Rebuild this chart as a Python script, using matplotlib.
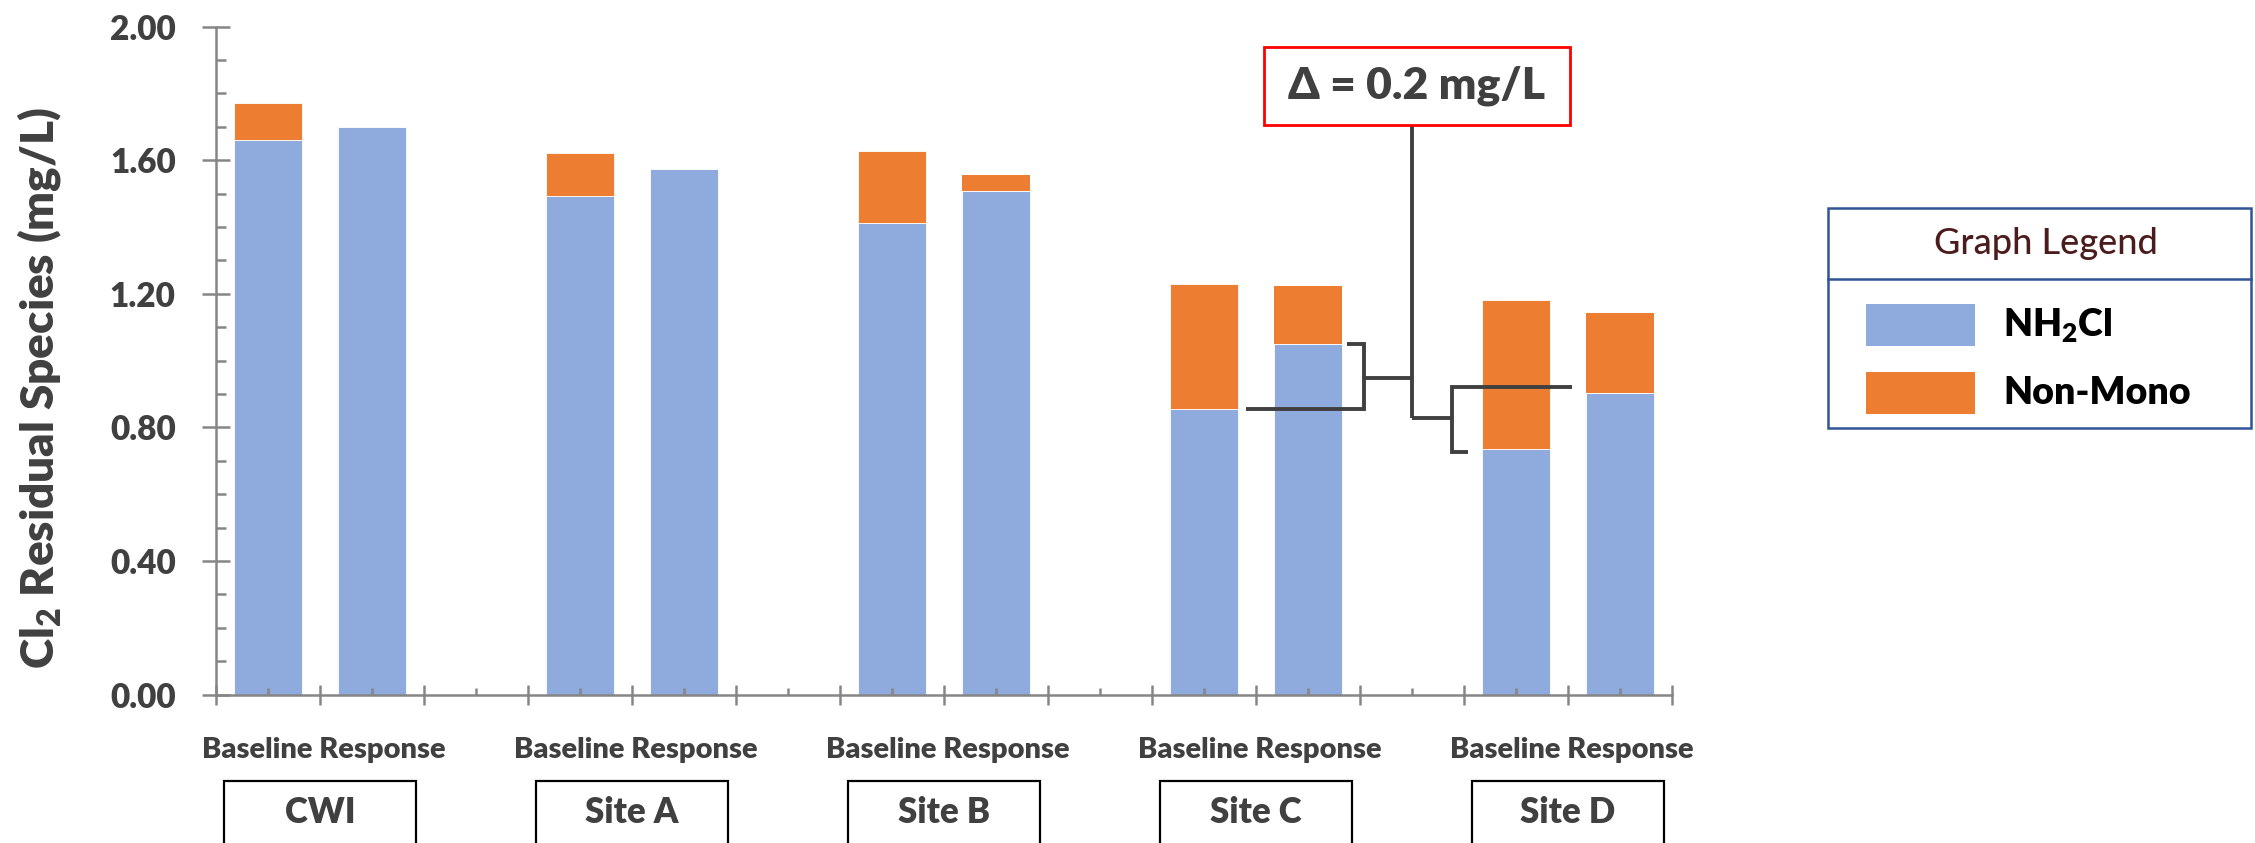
import numpy as np
import matplotlib
matplotlib.use("Agg")
import matplotlib.pyplot as plt
from matplotlib.patches import Rectangle
from matplotlib.transforms import blended_transform_factory

plt.rcParams['font.family'] = ['Lato', 'DejaVu Sans']
plt.rcParams['mathtext.fontset'] = 'custom'
plt.rcParams['mathtext.rm'] = 'Lato:heavy'
plt.rcParams['mathtext.bf'] = 'Lato:heavy'
plt.rcParams['mathtext.default'] = 'rm'

# ---- data ----
sites = ['CWI', 'Site A', 'Site B', 'Site C', 'Site D']
conditions = ['Baseline', 'Response']
nh2cl_baseline = [1.660, 1.492, 1.412, 0.855, 0.736]
nonmono_baseline = [0.111, 0.128, 0.215, 0.375, 0.446]
nh2cl_response = [1.700, 1.572, 1.507, 1.048, 0.904]
nonmono_response = [0.000, 0.000, 0.048, 0.174, 0.238]
yticks = [0.00, 0.40, 0.80, 1.20, 1.60, 2.00]
annotation_text = '\u0394 = 0.2 mg/L'
ylabel_text = r'Cl$_2$ Residual Species (mg/L)'
legend_title = 'Graph Legend'
legend_labels = [r'NH$_2$Cl', 'Non-Mono']

BLUE = '#8FAADC'
ORANGE = '#ED7D31'
GRAY_TXT = '#404040'
AXIS_GRAY = '#868686'
HW = 'heavy'

W, H = 2255, 843
fig = plt.figure(figsize=(W / 100, H / 100), dpi=100)
ax = fig.add_axes([216 / W, 1 - 694.5 / H, (1672 - 216) / W, (694.5 - 26.5) / H])

x_base = np.arange(len(sites)) * 3
x_resp = x_base + 1
bw = 0.66
ax.bar(x_base, nh2cl_baseline, width=bw, color=BLUE, edgecolor='white', linewidth=0.6)
ax.bar(x_base, nonmono_baseline, bottom=nh2cl_baseline, width=bw, color=ORANGE,
       edgecolor='white', linewidth=0.6)
ax.bar(x_resp, nh2cl_response, width=bw, color=BLUE, edgecolor='white', linewidth=0.6)
ax.bar(x_resp, nonmono_response, bottom=nh2cl_response, width=bw, color=ORANGE,
       edgecolor='white', linewidth=0.0)

ax.set_xlim(-0.5, 13.5)
ax.set_ylim(0, 2.0)

for s in ['top', 'right']:
    ax.spines[s].set_visible(False)
for s in ['left', 'bottom']:
    ax.spines[s].set_color(AXIS_GRAY)
    ax.spines[s].set_linewidth(1.8)

ax.set_yticks(yticks)
ax.set_yticklabels(['%.2f' % v for v in yticks])
ax.set_yticks(np.arange(0, 2.01, 0.1), minor=True)
ax.tick_params(axis='y', which='major', direction='inout', length=20, width=1.8,
               color=AXIS_GRAY, labelsize=24, labelcolor=GRAY_TXT, pad=19)
ax.tick_params(axis='y', which='minor', direction='in', length=7, width=1.8, color=AXIS_GRAY)
for lab in ax.get_yticklabels():
    lab.set_fontweight(HW)

ax.set_xticks(np.arange(-0.5, 14, 1.0))
ax.set_xticklabels([])
ax.set_xticks(np.arange(0, 14, 1.0), minor=True)
ax.tick_params(axis='x', which='major', direction='inout', length=14, width=1.8, color=AXIS_GRAY)
ax.tick_params(axis='x', which='minor', direction='in', length=5, width=1.8, color=AXIS_GRAY)

fig.text(40 / W, 1 - 388 / H, ylabel_text, rotation=90, ha='center', va='center',
         fontsize=33, fontweight=HW, color=GRAY_TXT)

# group labels and site boxes
trans = blended_transform_factory(ax.transData, ax.transAxes)
for i, site in enumerate(sites):
    cx = (x_base[i] + x_resp[i]) / 2
    ax.text(cx + 0.04, -0.083, ' '.join(conditions), transform=trans, ha='center', va='center',
            fontsize=21, fontweight=HW, color=GRAY_TXT)
    ax.add_patch(Rectangle((cx - 0.925, -0.35), 1.85, 0.2205, transform=trans,
                           fill=False, edgecolor='black', linewidth=1.6, clip_on=False))
    ax.text(cx, -0.176, site, transform=trans, ha='center', va='center',
            fontsize=25, fontweight=HW, color=GRAY_TXT)

# annotation
LC = '#404040'
lw = 2.8
ax.add_patch(Rectangle((9.577, 1.705), 2.943, 0.234, facecolor='white', edgecolor='#FF0000',
                       linewidth=2, clip_on=False, zorder=5))
ax.text(11.048, 1.822, annotation_text, ha='center', va='center', fontsize=32,
        fontweight=HW, color=LC, zorder=6)
segs = [
    ([11.0, 11.0], [1.705, 0.828]),
    ([11.0, 11.385], [0.828, 0.828]),
    ([12.54, 11.385, 11.385, 11.54], [0.920, 0.920, 0.726, 0.726]),
    ([11.0, 10.54], [0.948, 0.948]),
    ([10.375, 10.54, 10.54, 9.404], [1.049, 1.049, 0.855, 0.855]),
]
for xs, ys in segs:
    ax.plot(xs, ys, color=LC, linewidth=lw, clip_on=False, zorder=4,
            solid_joinstyle='miter', solid_capstyle='butt')

# legend
def fx(px):
    return px / W

def fy(py):
    return 1 - py / H

LEG_BLUE = '#2F5597'
fig.patches.append(Rectangle((fx(1828), fy(428)), (2251 - 1828) / W, (428 - 208) / H,
                             transform=fig.transFigure, fill=False, edgecolor=LEG_BLUE,
                             linewidth=1.8))
fig.lines.append(plt.Line2D([fx(1828), fx(2251)], [fy(279), fy(279)],
                            transform=fig.transFigure, color=LEG_BLUE, linewidth=1.8))
fig.text(fx(2046), fy(244), legend_title, ha='center', va='center', fontsize=26,
         fontweight='medium', color='#4B1C1C')
for j, (col, lab) in enumerate(zip([BLUE, ORANGE], legend_labels)):
    top = 304 + j * 68
    fig.patches.append(Rectangle((fx(1866), fy(top + 42)), (1975 - 1866) / W, 42 / H,
                                 transform=fig.transFigure, facecolor=col, edgecolor='none'))
    fig.text(fx(2003), fy(top + 21), lab, ha='left', va='center', fontsize=27,
             fontweight=HW, color='black')

fig.savefig('out.png', dpi=100)
